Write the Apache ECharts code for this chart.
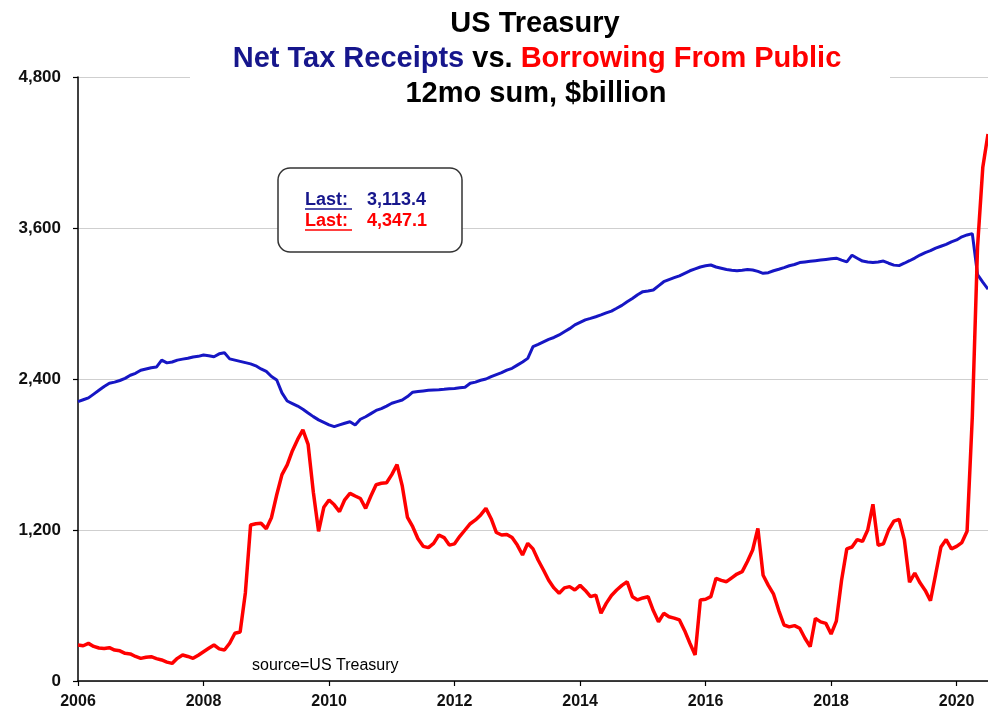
<!DOCTYPE html>
<html>
<head>
<meta charset="utf-8">
<script src="https://cdn.jsdelivr.net/npm/echarts@6/dist/echarts.min.js"></script>
<style>
html,body{margin:0;padding:0;background:#fff;}
#chart{width:988px;height:721px;}
</style>
</head>
<body>
<div id="chart"></div>
<script>
// Monthly data, Jan 2006 .. Jul 2020 (12-month sums, $billion)
var startYear = 2006;
var yearTicks = ['2006','2008','2010','2012','2014','2016','2018','2020'];
var yTicks = [0, 1200, 2400, 3600, 4800];

var netTaxReceipts = [
  2220,2235,2250,2280,2310,2340,2366,2375,2388,2405,2430,2445,
  2470,2480,2490,2495,2550,2528,2535,2550,2558,2565,2575,2580,
  2591,2585,2577,2600,2608,2560,2550,2540,2530,2520,2505,2480,
  2460,2420,2392,2290,2225,2205,2185,2160,2130,2101,2075,2055,
  2035,2021,2035,2048,2060,2034,2080,2100,2125,2150,2165,2185,
  2207,2220,2233,2260,2295,2300,2305,2310,2313,2315,2318,2322,
  2325,2330,2334,2366,2375,2390,2400,2419,2435,2450,2470,2485,
  2510,2535,2564,2657,2675,2695,2715,2730,2750,2776,2800,2830,
  2850,2870,2882,2895,2909,2925,2940,2962,2985,3014,3040,3070,
  3094,3100,3107,3140,3173,3190,3205,3220,3240,3260,3275,3290,
  3300,3306,3290,3280,3270,3265,3261,3265,3270,3266,3255,3240,
  3245,3260,3272,3285,3300,3310,3325,3330,3335,3340,3345,3350,
  3355,3360,3345,3331,3384,3360,3337,3330,3325,3330,3337,3320,
  3305,3301,3320,3340,3361,3385,3405,3420,3440,3455,3470,3490,
  3505,3530,3545,3555,3230,3170,3113.4
];

var borrowingFromPublic = [
  286,280,299,275,262,258,265,246,240,220,215,195,
  180,188,193,178,167,150,140,180,207,195,180,205,
  233,260,286,255,246,300,380,390,700,1240,1250,1253,
  1210,1300,1480,1640,1717,1830,1920,1995,1880,1500,1190,1380,
  1438,1400,1346,1440,1491,1470,1450,1372,1470,1560,1571,1575,
  1640,1720,1550,1300,1226,1130,1070,1060,1094,1160,1140,1080,
  1090,1150,1200,1250,1280,1320,1372,1290,1180,1160,1165,1140,
  1080,1001,1094,1050,960,882,800,740,697,740,750,723,
  760,720,670,683,538,617,680,723,760,789,670,644,
  660,670,560,471,538,510,500,485,400,300,207,644,
  650,670,816,800,789,820,850,869,950,1041,1213,840,
  760,690,560,445,430,440,419,340,273,498,470,458,
  373,476,800,1050,1065,1124,1109,1200,1404,1079,1090,1200,
  1271,1285,1124,785,858,780,720,638,850,1065,1124,1050,
  1070,1100,1190,2100,3450,4080,4347.1
];

var months = [];
for (var i = 0; i < netTaxReceipts.length; i++) {
  var y = startYear + Math.floor(i / 12), m = (i % 12) + 1;
  months.push(y + '-' + (m < 10 ? '0' + m : m));
}

function fmt(v) {
  return v.toLocaleString('en-US', {minimumFractionDigits: 1, maximumFractionDigits: 1});
}
function isYearTick(idx) {
  var v = months[idx];
  return v.slice(5) === '01' && yearTicks.indexOf(v.slice(0, 4)) >= 0;
}

var BLUE = '#1616c4', NAVY = '#16168c', RED = '#ff0000';
var FONT = 'Liberation Sans, Arial, sans-serif';
var TF = 'bold 29px ' + FONT;

var chart = echarts.init(document.getElementById('chart'));
chart.setOption({
  animation: false,
  backgroundColor: '#ffffff',
  grid: {left: 78, right: 0, top: 77, bottom: 40, containLabel: false},
  xAxis: {
    type: 'category',
    data: months,
    boundaryGap: false,
    axisLine: {lineStyle: {color: '#000', width: 1.5}},
    axisTick: {show: true, length: 5, interval: function (idx) { return isYearTick(idx); }, lineStyle: {color: '#000', width: 1.2}},
    axisLabel: {
      interval: function (idx) { return isYearTick(idx); },
      formatter: function (v) { return v.slice(0, 4); },
      fontFamily: FONT, fontWeight: 'bold', fontSize: 16, color: '#111', margin: 13
    },
    splitLine: {show: false}
  },
  yAxis: {
    type: 'value',
    min: yTicks[0], max: yTicks[yTicks.length - 1], interval: 1200,
    axisLine: {show: true, lineStyle: {color: '#000', width: 1.5}},
    axisTick: {show: true, length: 5, lineStyle: {color: '#000', width: 1.2}},
    axisLabel: {
      formatter: function (v) { return v.toLocaleString('en-US'); },
      fontFamily: FONT, fontWeight: 'bold', fontSize: 17, color: '#111', margin: 17
    },
    splitLine: {show: true, lineStyle: {color: '#cfcfcf', width: 1}}
  },
  series: [
    {name: 'Net Tax Receipts', type: 'line', data: netTaxReceipts, showSymbol: false,
     lineStyle: {color: BLUE, width: 3}, itemStyle: {color: BLUE}, z: 3},
    {name: 'Borrowing From Public', type: 'line', data: borrowingFromPublic, showSymbol: false,
     lineStyle: {color: RED, width: 3.5}, itemStyle: {color: RED}, z: 4}
  ],
  graphic: [
    {type: 'rect', shape: {x: 190, y: 68, width: 700, height: 18}, style: {fill: '#fff'}, z: 10, silent: true},
    {type: 'text', x: 535, y: 24, z: 11, style: {text: 'US Treasury', font: TF, fill: '#000', textAlign: 'center', textVerticalAlign: 'middle'}},
    {type: 'text', x: 537, y: 59, z: 11, style: {
      text: '{b|Net Tax Receipts}{k| vs. }{r|Borrowing From Public}',
      textAlign: 'center', textVerticalAlign: 'middle',
      rich: {
        b: {font: TF, fill: NAVY, fontWeight: 'bold', fontSize: 29, fontFamily: FONT},
        k: {font: TF, fill: '#000', fontWeight: 'bold', fontSize: 29, fontFamily: FONT},
        r: {font: TF, fill: RED, fontWeight: 'bold', fontSize: 29, fontFamily: FONT}
      }}},
    {type: 'text', x: 536, y: 94, z: 11, style: {text: '12mo sum, $billion', font: TF, fill: '#000', textAlign: 'center', textVerticalAlign: 'middle'}},
    {type: 'rect', shape: {x: 278, y: 168, width: 184, height: 84, r: 12}, style: {fill: '#fff', stroke: '#333', lineWidth: 1.5}, z: 10},
    {type: 'text', x: 305, y: 200, z: 11, style: {text: 'Last:', font: 'bold 18px ' + FONT, fill: NAVY, textVerticalAlign: 'middle'}},
    {type: 'line', shape: {x1: 305, y1: 209, x2: 352, y2: 209}, style: {stroke: NAVY, lineWidth: 1.5}, z: 11},
    {type: 'text', x: 367, y: 200, z: 11, style: {text: fmt(netTaxReceipts[netTaxReceipts.length - 1]), font: 'bold 18px ' + FONT, fill: NAVY, textVerticalAlign: 'middle'}},
    {type: 'text', x: 305, y: 221, z: 11, style: {text: 'Last:', font: 'bold 18px ' + FONT, fill: RED, textVerticalAlign: 'middle'}},
    {type: 'line', shape: {x1: 305, y1: 230, x2: 352, y2: 230}, style: {stroke: RED, lineWidth: 1.5}, z: 11},
    {type: 'text', x: 367, y: 221, z: 11, style: {text: fmt(borrowingFromPublic[borrowingFromPublic.length - 1]), font: 'bold 18px ' + FONT, fill: RED, textVerticalAlign: 'middle'}},
    {type: 'text', x: 252, y: 666, z: 11, style: {text: 'source=US Treasury', font: '16px ' + FONT, fill: '#000', textVerticalAlign: 'middle'}}
  ]
});
</script>
</body>
</html>
